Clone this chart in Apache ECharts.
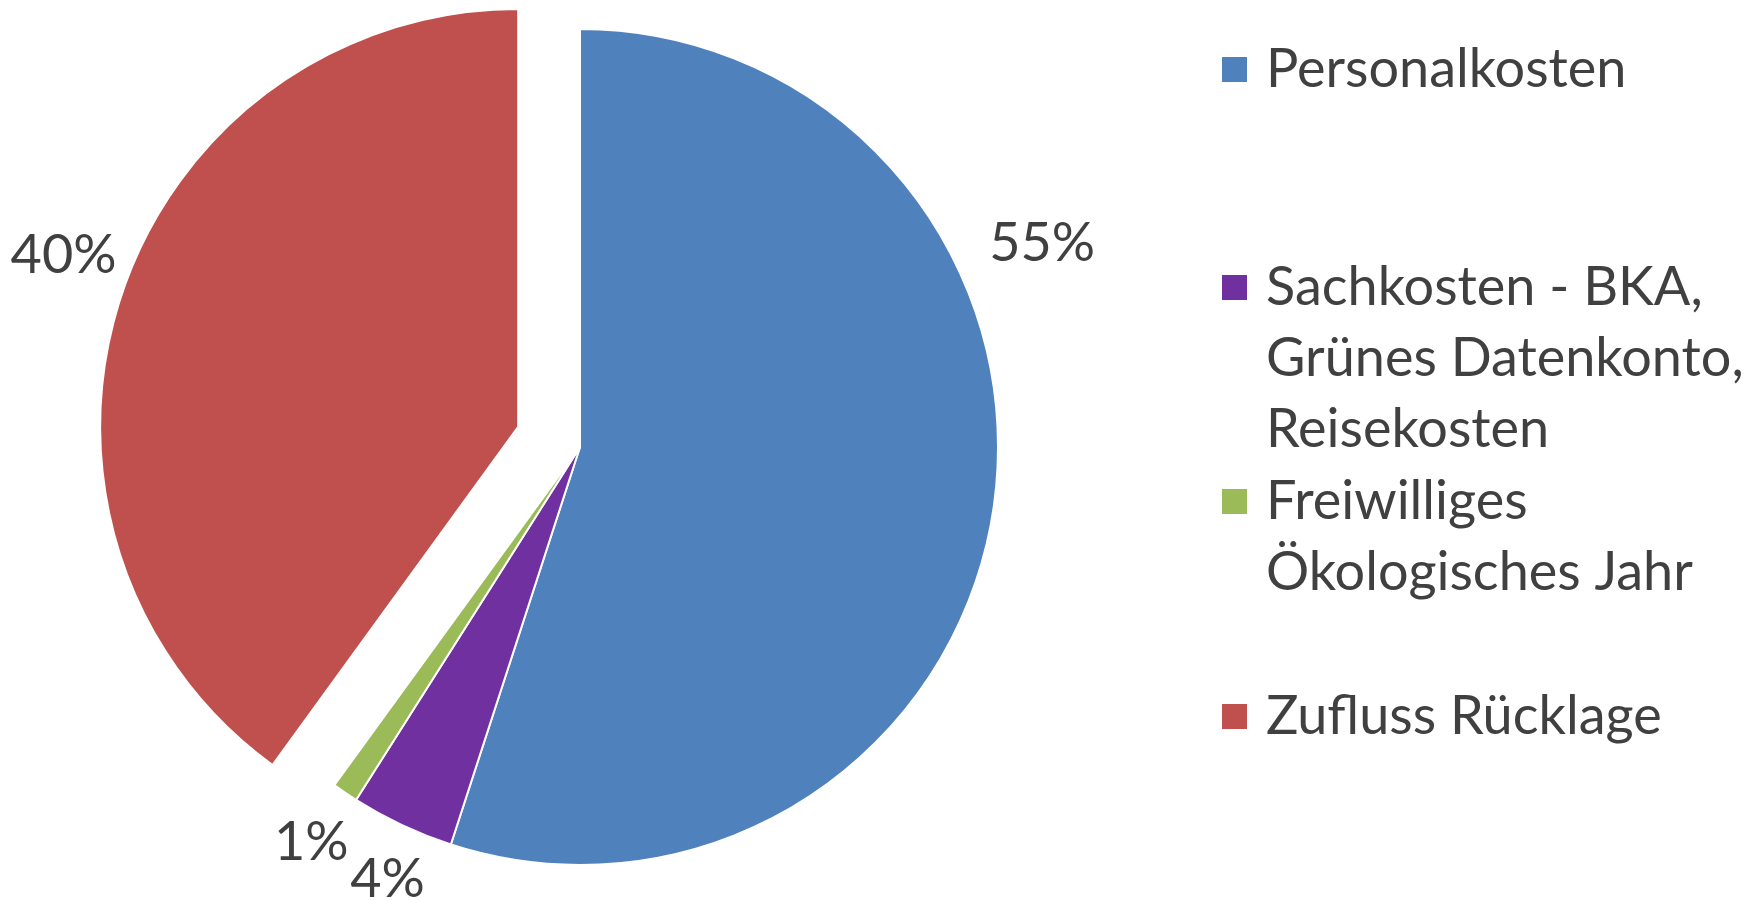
<!DOCTYPE html>
<html>
<head>
<meta charset="utf-8">
<script src="https://cdn.jsdelivr.net/npm/echarts@6/dist/echarts.min.js"></script>
<style>
  html, body { margin: 0; padding: 0; background: #fff; }
  #chart { width: 1762px; height: 900px; }
</style>
</head>
<body>
<div id="chart"></div>
<script>
// Daten
const categories = [
  'Personalkosten',
  'Sachkosten - BKA,\nGrünes Datenkonto,\nReisekosten',
  'Freiwilliges\nÖkologisches Jahr',
  'Zufluss Rücklage'
];
const shares = [55, 4, 1, 40];
const colors = ['#4F81BD', '#7030A0', '#9BBB59', '#C0504D'];

const font = 'Lato';
const textColor = '#404040';
const lineH = 71;

// Legende: jeder Eintrag einzeln, Symbol auf Höhe der ersten Zeile
const legendTops = [34, 110, 395, 681];

const myChart = echarts.init(document.getElementById('chart'));

// Leerzeilen oben, damit das Symbol neben der ersten Zeile sitzt
function padTop(name) {
  const n = name.split('\n').length - 1;
  return '\n'.repeat(n) + name;
}

// kleine Korrekturen der Beschriftungen (wie im Original verschoben)
const labelShift = [[-10, -278], [11, 0], [0, 0], [0, -24]];

const option = {
  animation: false,
  color: colors,
  legend: categories.map((name, i) => ({
    data: [name],
    left: 1220,
    top: legendTops[i],
    padding: 0,
    icon: 'rect',
    itemWidth: 27,
    itemHeight: 27,
    selectedMode: false,
    formatter: padTop,
    textStyle: {
      fontFamily: font,
      fontSize: 54,
      lineHeight: lineH,
      color: textColor,
      padding: [0, 0, 0, 13]
    }
  })),
  series: [{
    type: 'pie',
    center: [580, 447],
    radius: 418,
    startAngle: 90,
    clockwise: true,
    selectedMode: 'single',
    selectedOffset: 65,
    avoidLabelOverlap: false,
    silent: true,
    itemStyle: { borderColor: '#fff', borderWidth: 2 },
    label: {
      show: true,
      position: 'outside',
      formatter: '{d}%',
      fontFamily: font,
      fontSize: 54,
      color: textColor,
      distanceToLabelLine: 0
    },
    labelLine: { show: false, length: 60, length2: 0 },
    labelLayout: function (p) {
      const s = labelShift[p.dataIndex];
      return { align: 'center', dx: s[0], dy: s[1] };
    },
    data: categories.map((name, i) => ({
      name: name,
      value: shares[i],
      selected: i === 3
    }))
  }]
};

myChart.setOption(option);
</script>
</body>
</html>
